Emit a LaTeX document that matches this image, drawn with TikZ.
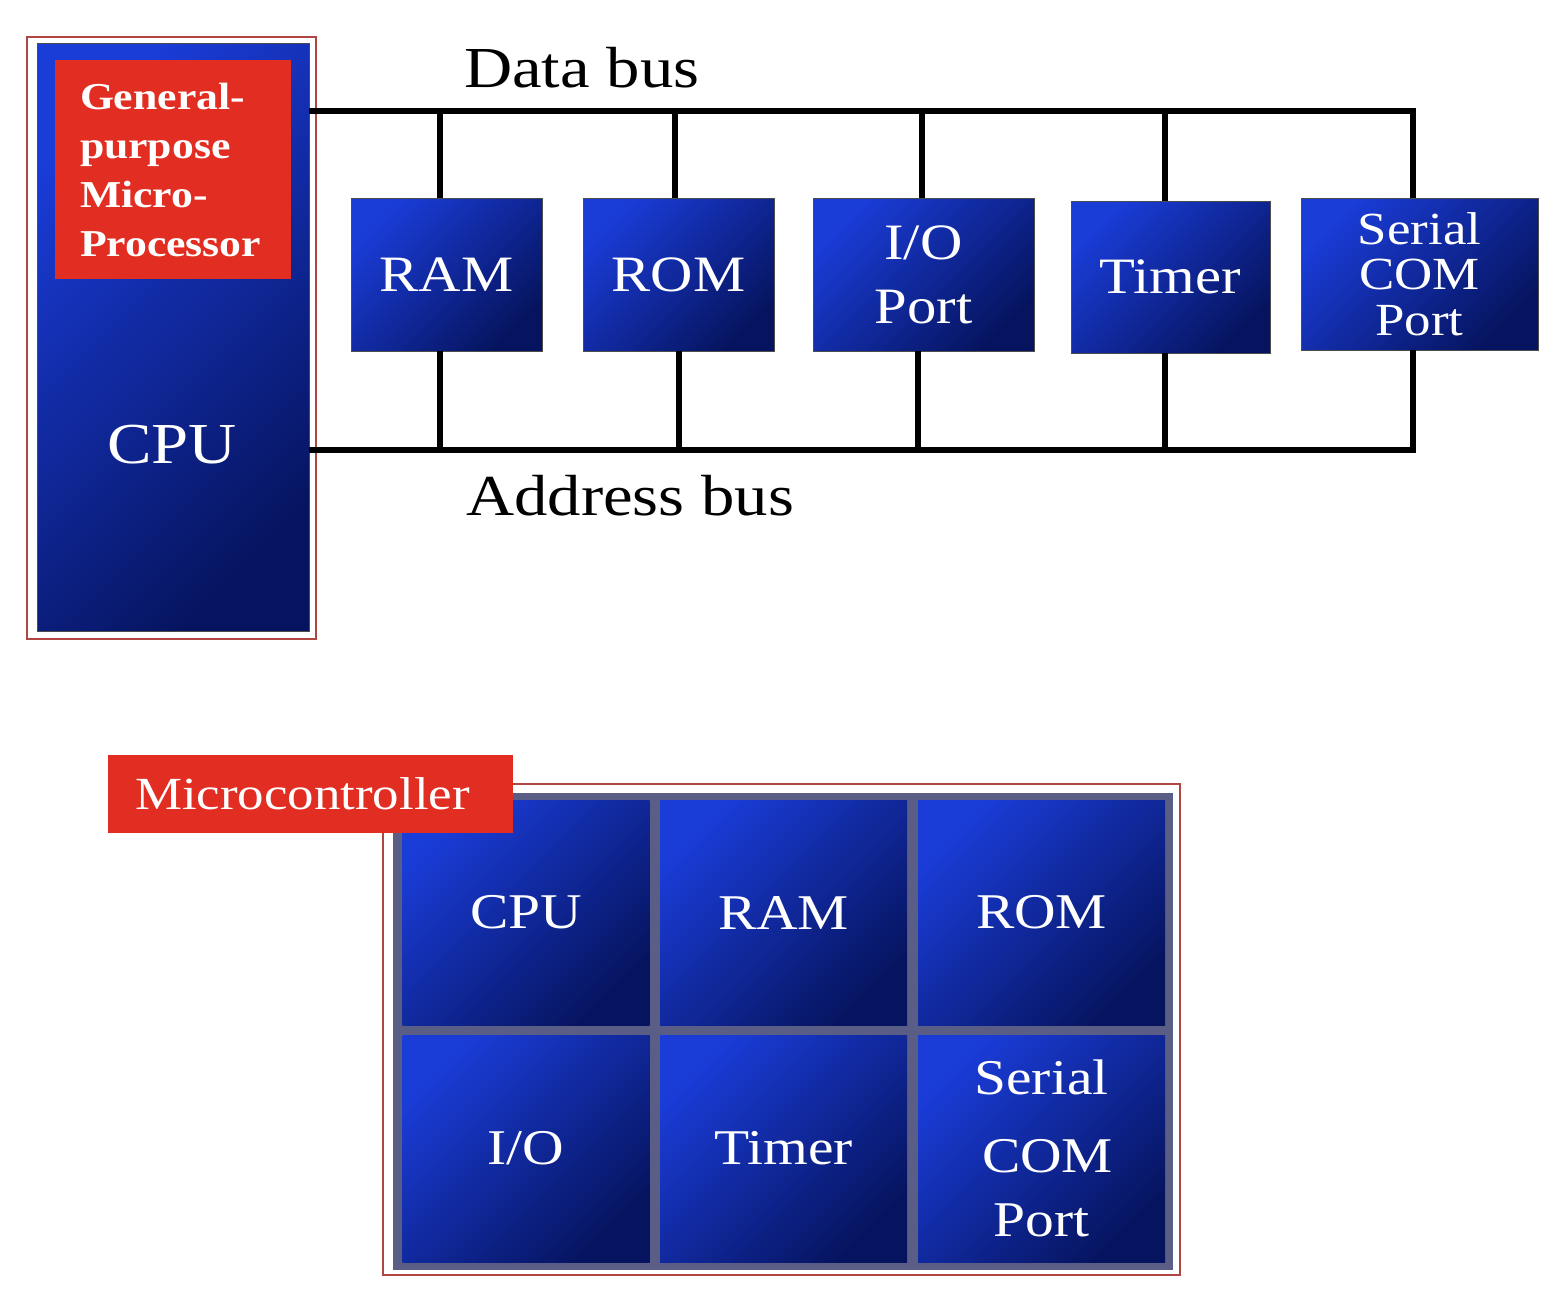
\documentclass[tikz,border=0pt]{standalone}
\usepackage{fontspec}
\setmainfont{Liberation Serif}[FakeStretch=1.15]
\definecolor{bluelt}{RGB}{26,60,215}
\definecolor{bluedk}{RGB}{6,20,95}
\definecolor{redbox}{RGB}{226,46,34}
\definecolor{gridgray}{RGB}{90,94,135}
\definecolor{framered}{RGB}{175,70,65}
\tikzset{
  blk/.style={draw=black!70, line width=0.8pt, top color=bluelt, bottom color=bluedk,
    shading angle=45, text=white, align=center, inner sep=0pt},
  cell/.style={top color=bluelt, bottom color=bluedk, shading angle=45,
    text=white, align=center, inner sep=0pt, minimum width=247pt},
  redfill/.style={fill=redbox, text=white, inner sep=0pt},
  bus/.style={line width=5.5pt, black, line join=miter},
  frm/.style={draw=framered, line width=1.5pt},
  fbig/.style={font=\fontsize{58}{62}\selectfont},
  fbox/.style={font=\fontsize{51}{64}\selectfont},
  fcell/.style={font=\fontsize{50}{70}\selectfont}
}
\begin{document}
\begin{tikzpicture}[x=1pt,y=-1pt]
\useasboundingbox (0,0) rectangle (1558,1299);
% ---------- top: microprocessor system ----------
\draw[frm] (27,37) rectangle (316,639);
\node[blk, minimum width=272pt, minimum height=588pt] (cpu) at (173,337) {};
\node[redfill, text width=186pt, align=left, minimum width=236pt, minimum height=219pt,
      font=\bfseries\fontsize{38}{49}\selectfont] (gp) at (173,169.5)
      {General-\\purpose\\Micro-\\Processor};
\node[fbig, text=white, anchor=base] (cputxt) at (172,463) {CPU};

\node[blk, fbox, minimum width=191pt, minimum height=153pt] (ram) at (446.5,274.5) {RAM};
\node[blk, fbox, minimum width=191pt, minimum height=153pt] (rom) at (678.5,274.5) {ROM};
\node[blk, fbox, minimum width=221pt, minimum height=153pt] (io) at (923.5,274.5) {I/O\\Port};
\node[blk, fbox, minimum width=199pt, minimum height=152pt] (timer) at (1170.5,277) {Timer};
\node[blk, font=\fontsize{46}{45.5}\selectfont, minimum width=237pt, minimum height=152pt] (serial) at (1419.5,274) {Serial\\COM\\Port};

\node[fbig, anchor=base west, inner sep=0pt] (dbus) at (464,87) {Data bus};
\node[fbig, anchor=base west, inner sep=0pt] (abus) at (466,515) {Address bus};

\coordinate (d0) at (309,111);
\coordinate (d1) at (440,111);
\coordinate (d2) at (675,111);
\coordinate (d3) at (922,111);
\coordinate (d4) at (1165,111);
\coordinate (d5) at (1413,111);
\coordinate (a0) at (309,450);
\coordinate (a1) at (440,450);
\coordinate (a2) at (679,450);
\coordinate (a3) at (918,450);
\coordinate (a4) at (1165,450);
\coordinate (a5) at (1413,450);

\draw[bus] (d0) -- (d5) -- (serial.north -| d5);
\draw[bus] (d1) -- (ram.north -| d1);
\draw[bus] (d2) -- (rom.north -| d2);
\draw[bus] (d3) -- (io.north -| d3);
\draw[bus] (d4) -- (timer.north -| d4);

\draw[bus] (a0) -- (a5) -- (serial.south -| a5);
\draw[bus] (a1) -- (ram.south -| a1);
\draw[bus] (a2) -- (rom.south -| a2);
\draw[bus] (a3) -- (io.south -| a3);
\draw[bus] (a4) -- (timer.south -| a4);

% ---------- bottom: microcontroller ----------
\draw[frm] (383,784) rectangle (1180,1275);
\fill[gridgray] (393,793) rectangle (1173,1270);
\node[cell, fcell, minimum height=225pt] (mcpu) at (526,912.5) {CPU};
\node[cell, fcell, minimum height=225pt] (mram) at (783.5,912.5) {RAM};
\node[cell, fcell, minimum height=225pt] (mrom) at (1041.5,912.5) {ROM};
\node[cell, fcell, minimum height=227pt] (mio) at (526,1148.5) {I/O};
\node[cell, fcell, minimum height=227pt] (mtimer) at (783.5,1148.5) {Timer};
\node[cell, fcell, minimum height=227pt] (mserial) at (1041.5,1148.5)
      {Serial\\[8pt]\hspace*{12pt}COM\\[-6pt]Port};

\node[redfill, text width=351pt, align=left, minimum width=405pt, minimum height=78pt,
      font=\fontsize{46}{50}\selectfont] (mc) at (310.5,794) {Microcontroller};
\end{tikzpicture}
\end{document}
